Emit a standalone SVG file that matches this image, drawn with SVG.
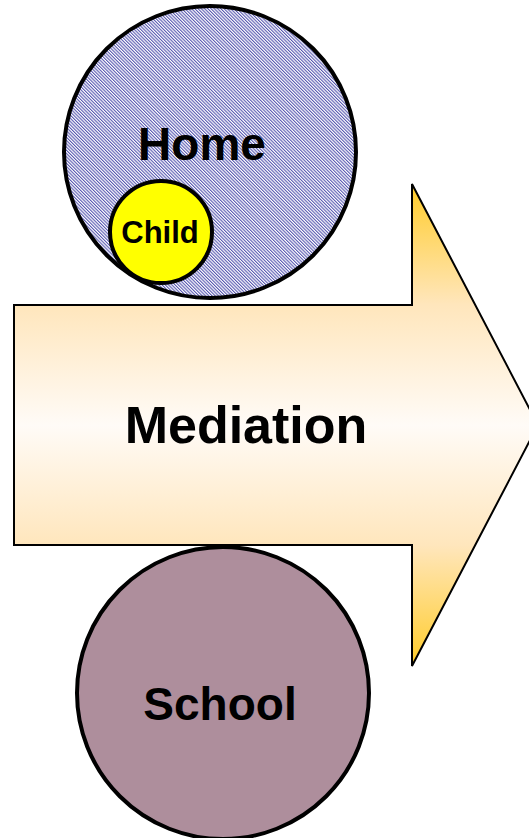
<svg xmlns="http://www.w3.org/2000/svg" width="529" height="838" viewBox="0 0 529 838">
  <style>
    .ring { stroke: #000; stroke-width: 4; }
    .label { font-family: "Liberation Sans", Arial, sans-serif; font-weight: bold; fill: #000; text-anchor: middle; }
  </style>
  <defs>
    <!-- fine diagonal hatching for the home circle -->
    <pattern id="hatch" patternUnits="userSpaceOnUse" width="2.3" height="4" patternTransform="rotate(-45)">
      <rect width="2.3" height="4" fill="#ffffff"/>
      <rect x="0" y="0" width="1.1" height="4" fill="#5a5ab2"/>
    </pattern>
    <linearGradient id="arrowFill" x1="0" y1="184" x2="0" y2="666" gradientUnits="userSpaceOnUse">
      <stop offset="0" stop-color="#ffcc2a"/>
      <stop offset="0.25" stop-color="#ffe6bc"/>
      <stop offset="0.5" stop-color="#fffbf7"/>
      <stop offset="0.75" stop-color="#ffe6bc"/>
      <stop offset="1" stop-color="#ffcc2a"/>
    </linearGradient>
  </defs>

  <rect width="529" height="838" fill="#ffffff"/>

  <g id="home">
    <circle class="ring" cx="210" cy="152" r="146" fill="url(#hatch)"/>
    <text class="label" x="202" y="160" font-size="46">Home</text>
  </g>

  <g id="child">
    <circle class="ring" cx="161" cy="232" r="51" fill="#ffff00"/>
    <text class="label" x="160" y="243" font-size="31">Child</text>
  </g>

  <g id="mediation">
    <path d="M14,305 H412 V184 L538,425 L412,666 V545 H14 Z" fill="url(#arrowFill)" stroke="#000" stroke-width="2" stroke-linejoin="miter"/>
    <text class="label" x="246" y="443" font-size="52">Mediation</text>
  </g>

  <g id="school">
    <circle class="ring" cx="223" cy="693" r="146" fill="#ae8e9c"/>
    <text class="label" x="220" y="720" font-size="46">School</text>
  </g>

  <g id="connectors"/>
</svg>
